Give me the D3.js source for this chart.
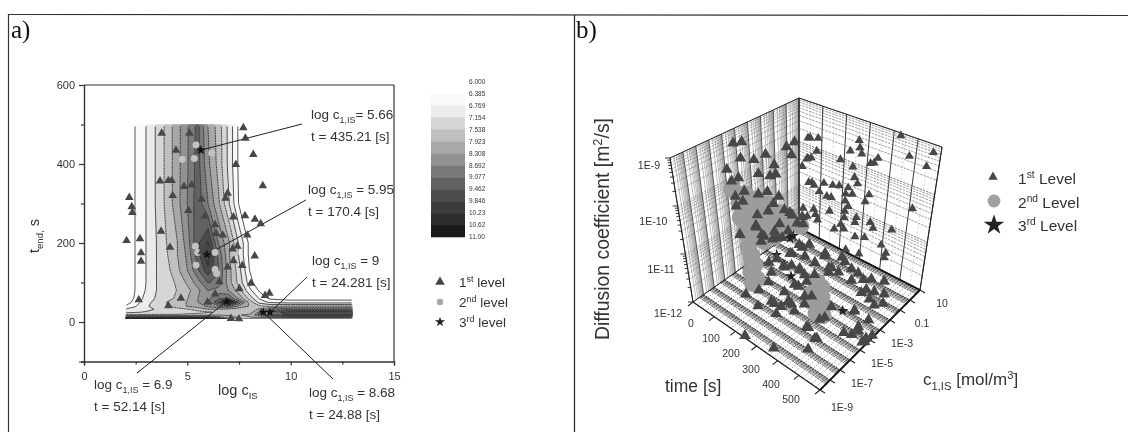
<!DOCTYPE html>
<html><head><meta charset="utf-8">
<script src="https://cdn.jsdelivr.net/npm/d3@7/dist/d3.min.js"></script>
<style>
html,body{margin:0;padding:0;background:#fff}
svg{display:block;filter:blur(0.4px)}
text{font-family:"Liberation Sans",Arial,sans-serif;fill:#333}
.serif{font-family:"Liberation Serif","Times New Roman",serif;fill:#111}
</style></head><body>
<div id="chart"></div>
<script>
// ---------- panel a) data ----------
const gridLogC=[2,2.5,3,3.5,4,4.5,5,5.5,6,6.5,7,7.5,8,8.5,9,10,13];
const gridTime=[8,12,18,25,32,40,50,60,80,100,130,170,200,300,400,500];
const gridValues=[
[11,11,11,11,11,11,11,11,11,10,8.5,7.5,7.5,7.4,7.2,7,7],
[9,9,9,9,9,9,9,9,9,8.5,8,7.9,7.9,8,8.2,8.3,8.3],
[7.6,7.6,7.6,7.6,7.6,7.6,7.7,7.7,7.8,7.9,7.9,7.9,8,8.6,9.2,9.6,9.6],
[7,7.1,7.2,7.25,7.3,7.3,7.3,7.4,7.5,7.6,7.6,7.6,7.7,8.4,9.2,9.7,9.7],
[6.8,6.9,7,7.2,7.3,7.4,7.5,7.7,7.9,7.9,7.8,7.7,7.7,8,8.4,8.7,8.7],
[6.4,6.75,7.1,7.3,7.5,7.7,7.95,8.1,8.4,8.6,8.8,8.2,7.9,7.6,7.5,7.6,7.6],
[6.1,6.6,7,7.3,7.55,7.7,7.95,8.3,8.6,9.4,10.8,9,7.8,7,6.7,6.6,6.6],
[5.9,6.5,6.9,7.2,7.4,7.6,7.9,8.3,8.6,9,9.1,8.2,7.4,6.7,6.3,6.2,6.2],
[5.9,6.42,6.8,7.15,7.35,7.55,7.8,8.2,8.7,8.5,8.3,7.7,6.9,6.3,5.9,5.9,5.9],
[5.9,6.42,6.77,7.15,7.35,7.6,8,8.5,9.1,9,8.1,7.4,6.6,6,5.9,5.9,5.9],
[5.9,6.42,6.77,7.15,7.4,7.8,8.3,9,9.7,9.1,8.1,7.3,6.4,5.9,5.9,5.9,5.9],
[5.9,6.42,6.77,7.15,7.5,7.9,8.4,9.3,10.2,9,8,7.1,6.3,5.9,5.9,5.9,5.9],
[5.9,6.42,6.77,7.15,7.54,7.9,8.5,9.4,9.9,8.7,8,7.1,6.3,5.9,5.9,5.9,5.9],
[5.9,6.42,6.77,7.2,7.65,8.15,8.7,9.3,8.7,8,7.2,6.35,5.9,5.9,5.9,5.9,5.9],
[5.9,6.42,6.77,7.2,7.65,8.15,8.65,9.25,8.4,7.8,7.05,6.3,5.9,5.9,5.9,5.9,5.9],
[5.9,6.42,6.77,7.2,7.65,8.15,8.65,9.2,8.3,7.75,7.05,6.3,5.9,5.9,5.9,5.9,5.9]];
const contourLevels=[6.385,6.769,7.154,7.538,7.923,8.308,8.692,9.077,9.462,9.846,10.23,10.62];
const contourGreys=["#f9f9f9","#ebebeb","#d6d6d6","#c0c0c0","#a8a8a8","#929292","#7a7a7a","#626262","#4c4c4c","#3c3c3c","#2c2c2c","#1a1a1a"];
const colorbarLabels=["6.000","6.385","6.769","7.154","7.538","7.923","8.308","8.692","9.077","9.462","9.846","10.23","10.62","11.00"];

const level1A=[[7.71,492],[7.81,465],[8.19,424],[7.35,399],[8.65,345],[3.76,478],[5.10,478],[4.45,435],[5.61,435],[3.68,357],[4.08,358],[4.24,358],[4.84,343],[5.21,347],[4.29,320],[6.95,326],[6.85,313],[5.69,311],[2.19,315],[2.31,292],[2.34,277],[5.05,282],[5.85,268],[7.23,266],[7.79,269],[8.27,260],[8.55,249],[6.34,246],[6.39,224],[6.71,220],[7.90,220],[3.73,230],[2.06,206],[2.71,211],[2.76,175],[2.76,154],[4.16,189],[7.42,192],[7.19,185],[8.26,167],[7.23,155],[7.66,143],[6.95,139],[8.08,98],[7.52,84],[6.55,102],[6.34,71],[8.76,67],[8.97,73],[2.65,56],[4.69,60],[4.08,41],[5.98,50],[7.11,9],[7.5,8],[8.6,24],[5.7,178],[5.94,186],[6.0,165]];
const level2A=[[5.42,448],[4.76,412],[5.34,414],[6.18,427],[5.39,192],[5.5,176],[6.34,176],[5.42,144],[6.34,133],[6.42,123],[7.34,176]];
const level3A=[[5.66,435.21],[5.95,170.4],[9,24.281],[8.68,24.88],[6.9,52.14]];
const annotationC=["5.66","5.95","9","8.68","6.9"];
const annotationT=["435.21","170.4","24.281","24.88","52.14"];

// ---------- panel b) data: [time s, log10 c, log10 D] ----------
const level1BWall=[[76,.5,-9.69],[110,.5,-9.63],[105,.5,-9.93],[66,.5,-10.17],[81,.5,-10.13],[41,.5,-10.41],[284,.5,-9.34],[289,.5,-9.49],[249,.5,-9.64],[298,.5,-9.61],[209,.5,-9.91],[264,.5,-9.96],[368,.5,-9.57],[353,.5,-9.7],[338,.5,-9.74],[452,.5,-8.93],[496,.5,-9.29],[591,.5,-9.04],[571,.5,-9.37],[274,.5,-10.17],[86,.5,-10.68],[96,.5,-10.72],[140,.5,-10.58],[180,.5,-10.54],[209,.5,-10.49],[289,.5,-10.28],[249,.5,-10.45],[120,.5,-10.81],[155,.5,-10.84],[175,.5,-10.82],[239,.5,-10.61],[269,.5,-10.55],[343,.5,-10.41],[328,.5,-10.59],[239,.5,-10.76],[254,.5,-10.85],[170,.5,-11.14],[239,.5,-10.99],[536,.5,-10.32],[46,.5,-11.35],[96,.5,-11.26],[105,.5,-11.36],[66,.5,-11.49],[115,.5,-11.46],[239,.5,-11.13],[294,.5,-11.01],[224,.5,-11.31],[195,.5,-11.48],[239,.5,-11.38],[289,.5,-11.13],[358,.5,-10.98],[373,.5,-11.07],[457,.5,-10.93],[294,.5,-11.43],[338,.5,-11.35],[417,.5,-11.34],[442,.5,-11.46],[437,.5,-11.57],[318,.5,-11.75],[254,.5,-11.8],[66,.5,-9.71],[61,.5,-10.2],[71,.5,-10.71]];
const level1BCore=[[20,-4.56,-9.21],[20,-3.9,-9.27],[20,-4.09,-9.6],[20,-3.05,-9.78],[20,-5.22,-9.69],[20,-2.1,-9.8],[20,-.4,-9.88],[20,0,-10.12],[20,-1.44,-10.13],[20,.26,-9.86],[20,-2.76,-10.13],[20,-1.82,-10.32],[20,-1.34,-10.35],[20,-4.37,-9.99],[20,-4.94,-9.98],[20,-3.99,-10.34],[20,-4.75,-10.34],[20,-4.18,-10.53],[20,-4.75,-10.55],[20,-2.86,-10.57],[20,-2.1,-10.63],[20,-1.15,-10.88],[20,-3.05,-11],[20,-1.63,-10.97],[20,-2.1,-11.06],[20,-.68,-11.26],[20,-3.23,-11.2],[20,-1.15,-11.5],[20,0,-11.49],[20,.45,-11.75],[20,.92,-11.68],[20,-2.57,-11.55],[20,-.4,-11.78],[20,-4.65,-11.18],[20,-1.63,-11.59],[20,-.97,-11.84],[20,-2.86,-11.61],[20,-1.82,-11.73],[20,-3.23,-11.24],[20,-2.76,-11.48],[20,-1.44,-11.77],[20,-.21,-11.4],[20,1,-11.86],
[113,-6.22,-11.95],[184,-6.48,-11.95],[247,-9,-11.95],[360,-8.55,-11.95],[456,-7.17,-11.95],[448,-6.14,-11.95],[258,-6.22,-11.95],[204,-5.61,-11.95],[299,-5.29,-11.95],[252,-4.92,-11.95],[383,-5.8,-11.95],[396,-4.81,-11.95],[129,-4.39,-11.95],[133,-5.37,-11.95],[226,-3.45,-11.95],[277,-3.87,-11.95],[297,-3.59,-11.95],[207,-4.41,-11.95],[67,-2.4,-11.95],[120,-2.67,-11.95],[133,-2.26,-11.95],[103,-3.6,-11.95],[172,-2.27,-11.95],[84,-1.46,-11.95],[95,-.52,-11.95],[193,-.25,-11.95],[264,-1.29,-11.95],[76,-.43,-11.95],[136,-1.06,-11.95],[188,-1.12,-11.95],[248,-.96,-11.95],[292,-.89,-11.95],[248,.3,-11.95],[183,-.04,-11.95],[319,-.16,-11.95],[355,-.22,-11.95],[393,-.48,-11.95],[416,-.15,-11.95],[435,-1.03,-11.95],[468,-.91,-11.95],[477,-1.57,-11.95],[471,-2.92,-11.95],[546,-4.04,-11.95],[536,-4.52,-11.95],[590,-4.2,-11.95],[600,-3.8,-11.95],[590,-4.6,-11.95],[507,-4.71,-11.95],[389,-3.52,-11.95],[533,-1.35,-11.95],[231,-2,-11.95],[232,-2.78,-11.95],[209,-3.48,-11.95],[267,-4.94,-11.95],[303,-4.41,-11.95],
[90,-1.38,-11.95],[104,-.02,-11.95],[59,-2.98,-11.95],[111,-2.59,-11.95],[166,-2.14,-11.95],[203,-2.4,-11.95],[219,-5.63,-11.95],[248,-5.55,-11.95],[248,-4.85,-11.95],[404,-4.47,-11.95],[391,-5.79,-11.95],[442,-6.22,-11.95],[468,-2.86,-11.95],[541,-2.95,-11.95],[511,-1.78,-11.95],[596,-4.46,-11.95],[532,-3.77,-11.95],[506,-.7,-11.95],[256,-.84,-11.95],[273,.1,-11.95],[359,-.96,-11.95],[431,-1.44,-11.95],[463,.17,-11.95]];
const level2B=[[20,-4.94,-10.15],[20,-3.99,-10.4],[20,-3.05,-10.65],[20,-2.1,-10.9],[20,-1.15,-11.25],[20,-.21,-11.5],[20,.74,-11.86],[20,-4.46,-10.53],[20,-3.52,-10.78],[20,-2.57,-11.03],[20,-1.63,-11.39],[20,-.68,-11.64],[20,-4.46,-10.84],[20,-3.52,-11.09],[20,-2.57,-11.34],[20,-1.63,-11.7],[20,-3.52,-11.4],[20,-2.57,-11.65],[20,-4.18,-11.2],[20,-3.99,-11.54],[20,-3.8,-11.77],[20,-3.61,-12],[85,-4.68,-11.95],[47,-4.41,-11.95],[93,-5.14,-11.95],
[261,-2.38,-11.95],[295,-2.59,-11.95],[288,-3.14,-11.95],[328,-3.26,-11.95],[321,-3.8,-11.95],[358,-3.97,-11.95],[367,-4.53,-11.95],[391,-4.42,-11.95]];
const level3B=[[435,-3.34,-11.95],[170,-3.05,-11.95],[52,-2.1,-11.95],[24,0,-11.95],[25,-.32,-11.95]];
const timeTicks=[0,100,200,300,400,500];
const concTicks=[[-9,"1E-9"],[-7,"1E-7"],[-5,"1E-5"],[-3,"1E-3"],[-1,"0.1"],[1,"10"]];
const diffTicks=[[-12,"1E-12"],[-11,"1E-11"],[-10,"1E-10"],[-9,"1E-9"]];

// ---------- drawing ----------
const svg=d3.select("#chart").append("svg").attr("width",1128).attr("height",432);
const line=(g,x1,y1,x2,y2,w,c,dash)=>g.append("line").attr("x1",x1).attr("y1",y1).attr("x2",x2).attr("y2",y2).attr("stroke",c||"#222").attr("stroke-width",w||1).attr("stroke-dasharray",dash||null);
function rich(g,x,y,parts,size,anchor,rot){
  const t=g.append("text").attr("font-size",size).attr("text-anchor",anchor||"start");
  if(rot) t.attr("transform",`translate(${x},${y}) rotate(${rot})`); else t.attr("x",x).attr("y",y);
  let shift=0;
  parts.forEach(p=>{
    const s=t.append("tspan").text(p[0]);
    const dy=p[1]==="sub"?size*.3:p[1]==="sup"?-size*.38:0;
    if(p[1]) s.attr("font-size",size*.66);
    s.attr("dy",dy-shift); shift=dy;
  });
  return t;
}
// panel frame
line(svg,9,14.5,1128,15.5,1.2,"#333");
line(svg,8.5,14,8.5,432,1.2,"#333");
line(svg,574.5,15,574.5,432,1.2,"#222");
svg.append("text").attr("class","serif").attr("x",11).attr("y",38).attr("font-size",25).text("a)");
svg.append("text").attr("class","serif").attr("x",576).attr("y",38).attr("font-size",25).text("b)");

// ---- a) ----
const a=svg.append("g");
const x=d3.scaleLinear([0,15],[84,394]);
const y=d3.scaleLinear([-100,600],[361.5,85]);
const idxC=d3.scaleLinear(gridLogC.map((_,i)=>i+.5),gridLogC).clamp(true);
const idxT=d3.scaleLinear(gridTime.map((_,i)=>i+.5),gridTime).clamp(true);
const path=d3.geoPath(d3.geoTransform({point(px,py){this.stream.point(x(idxC(px)),y(idxT(py)));}}));
const contours=d3.contours().size([gridLogC.length,gridTime.length]).smooth(true).thresholds(contourLevels)(gridValues.flat());
a.append("g").selectAll("path").data(contours).join("path").attr("d",path).attr("fill",(d,i)=>contourGreys[i]);
const clip=svg.append("clipPath").attr("id","inner").append("rect")
  .attr("x",x(2)+1).attr("y",y(500)+2).attr("width",x(13)-x(2)-2).attr("height",y(7)-y(500)-3);
a.append("g").attr("clip-path","url(#inner)").selectAll("path").data(contours).join("path").attr("d",path).attr("fill","none").attr("stroke","#2a2a2a").attr("stroke-width",.8).attr("stroke-dasharray",(d,i)=>i>2?"2 .6":null);
// frame & axes
const axB=d3.axisBottom(x).tickValues([0,5,10,15]).tickSize(4).tickPadding(7).tickFormat(d3.format("d"));
const axBm=d3.axisBottom(x).tickValues([2.5,7.5,12.5]).tickSize(3).tickFormat("");
const axL=d3.axisLeft(y).tickValues([0,200,400,600]).tickSize(5).tickPadding(4).tickFormat(d3.format("d"));
const axLm=d3.axisLeft(y).tickValues([-100,100,300,500]).tickSize(3).tickFormat("");
[[axB,`translate(0,${y(-100)})`],[axBm,`translate(0,${y(-100)})`],[axL,`translate(${x(0)},0)`],[axLm,`translate(${x(0)},0)`]].forEach(([ax,tr])=>{
  const g=a.append("g").attr("transform",tr).call(ax);
  g.selectAll("path,line").attr("stroke","#333").attr("stroke-width",1.2);
  g.selectAll("text").attr("font-size",11).attr("font-family","Liberation Sans").attr("fill","#444");
});
line(a,x(0),y(600),x(15),y(600),1.2,"#333");
line(a,x(15),y(600),x(15),y(-100),1.2,"#333");
const sym=(t,s)=>d3.symbol().type(t).size(s)();
const tri=d3.symbolTriangle, star=d3.symbolStar;
// annotation leaders
const labelLayout=[[311,119,302,124,0],[308,194,306,200,.1],[312,265,307,277,0],[309,397,333,379,0],[94,389,137,373,0]];
level3A.forEach((p,i)=>{
  const L=labelLayout[i], px=x(p[0]),py=y(p[1]);
  line(a,px+(L[2]-px)*L[4],py+(L[3]-py)*L[4],L[2],L[3],1,"#222");
});
a.append("g").selectAll("path").data(level2A).join("path").attr("d",sym(d3.symbolCircle,38)).attr("transform",d=>`translate(${x(d[0])},${y(d[1])})`).attr("fill","#c2c2c2");
a.append("g").selectAll("path").data(level1A).join("path").attr("d",sym(tri,32)).attr("transform",d=>`translate(${x(d[0])},${y(d[1])})`).attr("fill","#474747");
a.append("g").selectAll("path").data(level3A).join("path").attr("d",sym(star,28)).attr("transform",d=>`translate(${x(d[0])},${y(d[1])})`).attr("fill","#111");
// annotation text
labelLayout.forEach((L,i)=>{
  rich(a,L[0],L[1],[["log c"],["1,IS","sub"],[(i===0?"= ":" = ")+annotationC[i]]],13.5);
  a.append("text").attr("x",L[0]).attr("y",L[1]+21.5).attr("font-size",13.5).text(`t = ${annotationT[i]} [s]`);
});
rich(a,218,395,[["log c"],["IS","sub"]],14.5);
rich(a,39,253,[["t"],["end,","sub"],[" s"]],14.5,"start",-90);
// colorbar
const barY=d3.scalePoint(colorbarLabels,[81.5,237]);
const bar=a.append("g");
bar.selectAll("rect").data(contourGreys).join("rect").attr("x",431).attr("width",34)
  .attr("y",(d,i)=>barY(colorbarLabels[i+1])).attr("height",barY.step()+.3).attr("fill",d=>d);
bar.selectAll("text").data(colorbarLabels).join("text").attr("x",469).attr("y",d=>barY(d)+2.3).attr("font-size",6.5).attr("fill","#444").text(d=>d);
// legend a
a.append("path").attr("d",sym(tri,40)).attr("transform","translate(440,282)").attr("fill","#474747");
a.append("path").attr("d",sym(d3.symbolCircle,32)).attr("transform","translate(440,302)").attr("fill","#a8a8a8");
a.append("path").attr("d",sym(star,32)).attr("transform","translate(440,322)").attr("fill","#222");
[["1","st"],["2","nd"],["3","rd"]].forEach((o,i)=>rich(a,459,287+i*20,[[o[0]],[o[1],"sup"],[" level"]],13.5));

// ---- b) ----
const b=svg.append("g");
const uS=d3.scaleLinear([0,600],[0,1]), vS=d3.scaleLinear([-9,1],[0,1]), wS=d3.scaleLinear([-12,-9],[0,1]);
const corners={c000:[693,302],c100:[820,390],c110:[920,290],c010:[799,228],c001:[670,158],c011:[799,98],c111:[942,147],c101:[820,232]};
function proj(t,c,d){
  const u=uS(t),v=vS(c),w=wS(d);
  const f=k=>{
    const mix=(p,q,s)=>p+(q-p)*s;
    const a0=mix(corners.c000[k],corners.c100[k],u),a1=mix(corners.c010[k],corners.c110[k],u);
    const b0=mix(corners.c001[k],corners.c101[k],u),b1=mix(corners.c011[k],corners.c111[k],u);
    return mix(mix(a0,a1,v),mix(b0,b1,v),w);
  };
  return [f(0),f(1)];
}
const seg=(g,A,B,w,c,dash)=>{const p=proj(...A),q=proj(...B);return line(g,p[0],p[1],q[0],q[1],w,c,dash);};
const minors=(lo,hi)=>{const r=[];for(let d=lo;d<hi;d++)for(let k=1;k<10;k++)r.push(d+Math.log10(k));r.push(hi);return r;};
const cMin=minors(-9,1), dMin=minors(-12,-9), tMin=d3.range(0,601,20);
const grid=b.append("g");
// left wall (time = 0)
cMin.forEach(c=>{const maj=Number.isInteger(c);seg(grid,[0,c,-12],[0,c,-9],maj?.8:.45,maj?"#333":"#666");});
dMin.forEach(d=>seg(grid,[0,-9,d],[0,1,d],.5,"#555","2 1"));
// right wall (c = 10)
d3.range(50,600,100).forEach(t=>seg(grid,[t,1,-12],[t,1,-9],.4,"#999","2 2"));
d3.range(0,601,100).forEach(t=>seg(grid,[t,1,-12],[t,1,-9],.9,"#222"));
dMin.forEach(d=>seg(grid,[0,1,d],[600,1,d],Number.isInteger(d)?.7:.5,"#444","2.5 1"));
// floor: time hatching, then log-spaced concentration lines with a white gap after each decade
tMin.forEach(t=>seg(grid,[t,-9,-12],[t,1,-12],.6,"#333","1 1.6"));
cMin.filter(c=>{const f=c-Math.floor(c);return f===0||f>.55;}).forEach(c=>seg(grid,[0,c,-12],[600,c,-12],Number.isInteger(c)?.9:.7,"#1a1a1a","2 .8"));
// edges
[[[0,-9,-12],[0,-9,-9]],[[0,-9,-9],[0,1,-9]],[[0,1,-12],[0,1,-9]],[[0,1,-9],[600,1,-9]],[[600,1,-12],[600,1,-9]]].forEach(e=>seg(grid,e[0],e[1],1,"#222"));
seg(grid,[0,-9,-12],[600,-9,-12],1.2,"#222");
seg(grid,[600,-9,-12],[600,1,-12],1.8,"#111");
seg(grid,[0,1,-12],[600,1,-12],1.8,"#111");
seg(grid,[0,-9,-12],[0,1,-12],1,"#222");
// ticks
const pt=(P,dx,dy,w)=>{const p=proj(...P);line(grid,p[0],p[1],p[0]+dx,p[1]+dy,w||1,"#222");};
d3.range(0,601,100).forEach(t=>pt([t,-9,-12],-5,4,1.1));
d3.range(-9,2).forEach(c=>pt([600,c,-12],5,3,1.1));
dMin.forEach(d=>pt([0,-9,d],Number.isInteger(d)?-5:-3,0,.9));
// labels
const tlx=d3.scaleLinear([0,500],[691,791]), tly=d3.scaleLinear([0,500],[323,399]);
const lab=b.append("g");
timeTicks.forEach(t=>lab.append("text").attr("x",tlx(t)).attr("y",tly(t)+4).attr("text-anchor","middle").attr("font-size",10.5).attr("fill","#444").text(t));
concTicks.forEach(([c,s])=>{const p=proj(600,c,-12);lab.append("text").attr("x",p[0]+22).attr("y",p[1]+(c===-9?21:17)).attr("text-anchor","middle").attr("font-size",10.5).attr("fill","#444").text(s);});
const dLabel=d3.scaleLinear([-12,-11,-10,-9],[313,269,221,165]), dLabelX=d3.scaleLinear([-12,-9],[682,660]);
diffTicks.forEach(([d,s])=>lab.append("text").attr("x",dLabelX(d)).attr("y",dLabel(d)+4).attr("text-anchor","end").attr("font-size",10.5).attr("fill","#444").text(s));
// points
const at=d=>{const p=proj(d[0],d[1],d[2]);return `translate(${p[0]},${p[1]})`;};
b.append("g").selectAll("path").data(level2B).join("path").attr("d",sym(d3.symbolCircle,250)).attr("transform",at).attr("fill","#9c9c9c");
b.append("g").selectAll("path").data(level3B).join("path").attr("d",sym(star,40)).attr("transform",at).attr("fill","#222");
b.append("g").selectAll("path.w").data(level1BWall).join("path").attr("class","w").attr("d",sym(tri,36)).attr("transform",at).attr("fill","#474747");
b.append("g").selectAll("path.c").data(level1BCore).join("path").attr("class","c").attr("d",sym(tri,58)).attr("transform",at).attr("fill","#474747");
// titles
rich(b,609,340,[["Diffusion coefficient [m"],["2","sup"],["/s]"]],19.4,"start",-90);
b.append("text").attr("x",665).attr("y",392).attr("font-size",17.5).text("time [s]");
rich(b,923,385,[["c"],["1,IS","sub"],[" [mol/m"],["3","sup"],["]"]],17);
// legend b
b.append("path").attr("d",sym(tri,38)).attr("transform","translate(993,177)").attr("fill","#474747");
b.append("path").attr("d",sym(d3.symbolCircle,130)).attr("transform","translate(994,201)").attr("fill","#a0a0a0");
b.append("path").attr("d",sym(star,130)).attr("transform","translate(994,225)").attr("fill","#222");
[["1","st"],["2","nd"],["3","rd"]].forEach((o,i)=>rich(b,1018,184+i*23.5,[[o[0]],[o[1],"sup"],[" Level"]],15.5));
</script>
</body></html>
